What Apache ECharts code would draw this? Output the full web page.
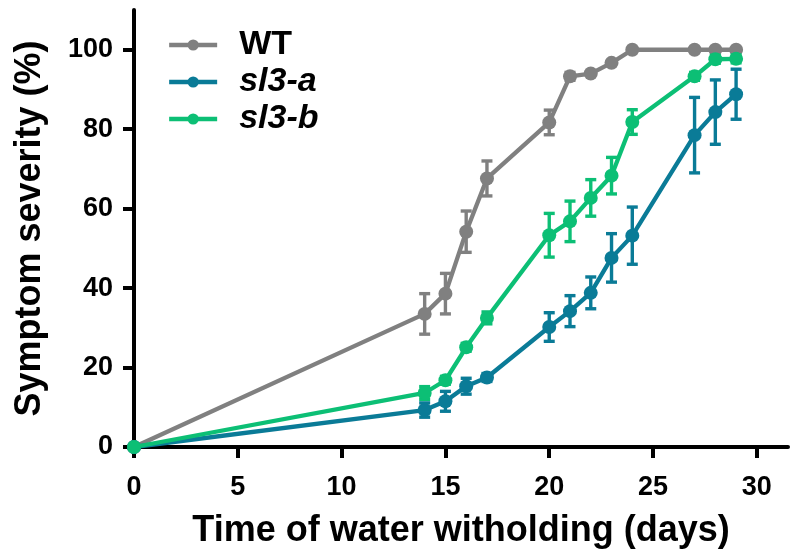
<!DOCTYPE html>
<html>
<head>
<meta charset="utf-8">
<script src="https://cdn.jsdelivr.net/npm/echarts@6/dist/echarts.min.js"></script>
<style>html,body{margin:0;padding:0;background:#fff}#c{width:790px;height:554px}</style>
</head>
<body>
<div id="c"></div>
<script>
const days = [0, 14, 15, 16, 17, 20, 21, 22, 23, 24, 27, 28, 29];
const wt = [0, 33.5, 38.6, 54.2, 67.6, 81.7, 93.3, 94, 96.7, 100, 100, 100, 100];
const wtErr = [0, 5.1, 5.1, 5.2, 4.4, 3.1, 1, 0, 0, 0, 0, 0, 0];
const sl3a = [0, 9.3, 11.5, 15.3, 17.5, 30.2, 34.2, 38.8, 47.6, 53.2, 78.5, 84.3, 88.8];
const sl3aErr = [0, 1.8, 2.5, 2, 1, 3.6, 3.9, 4, 6.1, 7.2, 9.5, 8.1, 6.3];
const sl3b = [0, 13.6, 16.8, 25.1, 32.5, 53.3, 56.8, 62.7, 68.3, 81.8, 93.3, 97.6, 97.7];
const sl3bErr = [0, 1.6, 1, 1, 1.5, 5.5, 5.1, 4.6, 4.6, 3.1, 1, 1, 1];
const seriesNames = ['WT', 'sl3-a', 'sl3-b'];
const xTicks = [0, 5, 10, 15, 20, 25, 30];
const yTicks = [0, 20, 40, 60, 80, 100];
const xTitle = 'Time of water witholding (days)';
const yTitle = 'Symptom severity (%)';

const colors = ['#808080', '#0a7b97', '#0cbf75'];
const means = [wt, sl3a, sl3b];
const errs = [wtErr, sl3aErr, sl3bErr];
const FONT = '"Liberation Sans", Arial, sans-serif';

const series = [];
means.forEach((m, i) => {
  const color = colors[i];
  series.push({
    type: 'custom',
    z: 2 + i * 2,
    silent: true,
    clip: false,
    data: days.map((d, k) => [d, m[k] - errs[i][k], m[k] + errs[i][k]]),
    encode: { x: 0, y: [1, 2] },
    renderItem: function (params, api) {
      const x = api.value(0), lo = api.value(1), hi = api.value(2);
      if (hi - lo <= 0) return null;
      const p1 = api.coord([x, hi]);
      const p2 = api.coord([x, lo]);
      const w = 5.5;
      const st = { stroke: color, lineWidth: 3.4 };
      return {
        type: 'group',
        children: [
          { type: 'line', shape: { x1: p1[0], y1: p1[1], x2: p2[0], y2: p2[1] }, style: st },
          { type: 'line', shape: { x1: p1[0] - w, y1: p1[1], x2: p1[0] + w, y2: p1[1] }, style: st },
          { type: 'line', shape: { x1: p2[0] - w, y1: p2[1], x2: p2[0] + w, y2: p2[1] }, style: st }
        ]
      };
    }
  });
  series.push({
    name: seriesNames[i],
    type: 'line',
    z: 3 + i * 2,
    clip: false,
    data: days.map((d, k) => [d, m[k]]),
    symbol: 'circle',
    symbolSize: 14,
    showSymbol: true,
    color: color,
    lineStyle: { color: color, width: 4.3 },
    itemStyle: { color: color },
    emphasis: { disabled: true },
    animation: false
  });
});

const chart = echarts.init(document.getElementById('c'), null, { renderer: 'canvas' });
chart.setOption({
  animation: false,
  backgroundColor: '#ffffff',
  grid: { left: 134, top: 10, width: 654, height: 439, containLabel: false },
  legend: {
    data: seriesNames,
    orient: 'vertical',
    left: 162,
    top: 23,
    itemWidth: 48,
    itemHeight: 14,
    itemGap: 3,
    lineStyle: { width: 4.3 },
    formatter: function (name) { return name === 'WT' ? '{n|' + name + '}' : '{i|' + name + '}'; },
    textStyle: {
      fontFamily: FONT,
      fontSize: 34,
      fontWeight: 'bold',
      color: '#000',
      padding: [0, 0, 0, 17],
      rich: {
        n: { fontFamily: FONT, fontSize: 34, fontWeight: 'bold', color: '#000', lineHeight: 35 },
        i: { fontFamily: FONT, fontSize: 34, fontWeight: 'bold', fontStyle: 'italic', color: '#000', lineHeight: 35 }
      }
    }
  },
  xAxis: {
    type: 'value',
    min: 0,
    max: 31.5,
    name: xTitle,
    nameLocation: 'middle',
    nameGap: 66,
    nameTextStyle: { fontFamily: FONT, fontSize: 36, fontWeight: 'bold', color: '#000' },
    axisLine: { show: true, onZero: false, lineStyle: { color: '#000', width: 4 } },
    axisTick: { show: true, length: 11, lineStyle: { color: '#000', width: 4 }, customValues: xTicks },
    axisLabel: { fontFamily: FONT, fontSize: 27, fontWeight: 'bold', color: '#000', margin: 27, customValues: xTicks },
    splitLine: { show: false }
  },
  yAxis: {
    type: 'value',
    min: 0,
    max: 110,
    name: yTitle,
    nameLocation: 'middle',
    nameGap: 86,
    nameTextStyle: { fontFamily: FONT, fontSize: 36, fontWeight: 'bold', color: '#000' },
    axisLine: { show: true, onZero: false, lineStyle: { color: '#000', width: 4 } },
    axisTick: { show: true, length: 11, lineStyle: { color: '#000', width: 4 }, customValues: yTicks },
    axisLabel: { fontFamily: FONT, fontSize: 27, fontWeight: 'bold', color: '#000', margin: 21, customValues: yTicks },
    splitLine: { show: false }
  },
  series: series
});
</script>
</body>
</html>
